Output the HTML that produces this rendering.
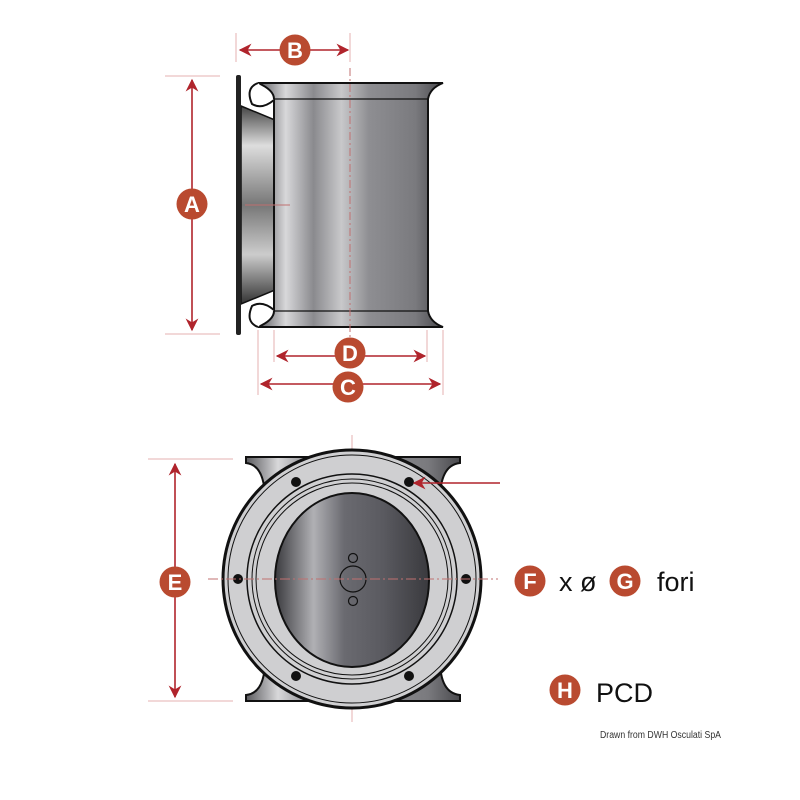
<!DOCTYPE html>
<html><head><meta charset="utf-8"><style>body{margin:0;background:#fff}svg{display:block}</style></head><body>
<svg width="800" height="800" viewBox="0 0 800 800" xmlns="http://www.w3.org/2000/svg" font-family="Liberation Sans, sans-serif">
<defs>
<linearGradient id="tube" x1="0" x2="1" y1="0" y2="0">
<stop offset="0" stop-color="#5a5a5e"/><stop offset="0.15" stop-color="#d8d8da"/><stop offset="0.3" stop-color="#8a8a8e"/><stop offset="0.45" stop-color="#c8c8ca"/><stop offset="0.6" stop-color="#8e8e92"/><stop offset="0.85" stop-color="#7a7a7e"/><stop offset="1" stop-color="#4a4a4e"/>
</linearGradient>
<linearGradient id="rec" x1="0" x2="0" y1="0" y2="1">
<stop offset="0" stop-color="#444"/><stop offset="0.2" stop-color="#ddd"/><stop offset="0.5" stop-color="#777"/><stop offset="0.75" stop-color="#ccc"/><stop offset="1" stop-color="#333"/>
</linearGradient>
<linearGradient id="oval" x1="0" x2="1" y1="0" y2="0">
<stop offset="0" stop-color="#3a3a3e"/><stop offset="0.25" stop-color="#b0b0b4"/><stop offset="0.45" stop-color="#6a6a70"/><stop offset="0.7" stop-color="#5a5a60"/><stop offset="1" stop-color="#3a3a3e"/>
</linearGradient>
<marker id="ar" viewBox="0 0 10 10" refX="9" refY="5" markerWidth="8" markerHeight="8" orient="auto-start-reverse"><path d="M0,0 L10,5 L0,10 L3,5z" fill="#b0242c"/></marker>
</defs>
<!-- top view -->
<g stroke="#e4b0b0" stroke-width="1">
<line x1="236" y1="33" x2="236" y2="62"/><line x1="350" y1="33" x2="350" y2="62"/>
<line x1="165" y1="76" x2="220" y2="76"/><line x1="165" y1="334" x2="220" y2="334"/>
<line x1="258" y1="330" x2="258" y2="395"/><line x1="443" y1="330" x2="443" y2="395"/>
<line x1="274" y1="330" x2="274" y2="362"/><line x1="427" y1="330" x2="427" y2="362"/>
</g>
<path d="M241,106 L275,120 L275,290 L241,304z" fill="url(#rec)" stroke="#111" stroke-width="1.5"/>
<rect x="236" y="75" width="5" height="260" rx="2" fill="#222"/>
<path d="M258,83 L443,83 Q430,88 428,99 L428,311 Q430,322 443,327 L258,327 Q274,320 274,311 L274,99 Q274,90 258,83z" fill="url(#tube)" stroke="#111" stroke-width="2"/>
<line x1="274" y1="99" x2="428" y2="99" stroke="#111" stroke-width="1.2"/>
<line x1="274" y1="311" x2="428" y2="311" stroke="#111" stroke-width="1.2"/>
<path d="M258,83 Q245,88 252,104 Q262,110 274,100" fill="#fff" stroke="#111" stroke-width="2"/>
<path d="M258,327 Q245,322 252,306 Q262,300 274,310" fill="#fff" stroke="#111" stroke-width="2"/>
<line x1="350" y1="68" x2="350" y2="345" stroke="#c07070" stroke-width="1" stroke-dasharray="8,3,2,3"/>
<line x1="245" y1="205" x2="290" y2="205" stroke="#c07070" stroke-width="1"/>
<g stroke="#b0242c" stroke-width="1.6" fill="none">
<line x1="240" y1="50" x2="348" y2="50" marker-start="url(#ar)" marker-end="url(#ar)"/>
<line x1="192" y1="80" x2="192" y2="330" marker-start="url(#ar)" marker-end="url(#ar)"/>
<line x1="277" y1="356" x2="425" y2="356" marker-start="url(#ar)" marker-end="url(#ar)"/>
<line x1="261" y1="384" x2="440" y2="384" marker-start="url(#ar)" marker-end="url(#ar)"/>
</g>
<!-- bottom view -->
<g stroke="#e4b0b0" stroke-width="1">
<line x1="148" y1="459" x2="233" y2="459"/><line x1="148" y1="701" x2="233" y2="701"/>
<line x1="352" y1="435" x2="352" y2="722"/>
</g>
<path d="M246,457 L460,457 L460,463 Q440,465 440,500 L265,500 Q265,465 246,463z" fill="url(#tube)" stroke="#111" stroke-width="2"/>
<path d="M246,701 L460,701 L460,695 Q440,693 440,660 L265,660 Q265,693 246,695z" fill="url(#tube)" stroke="#111" stroke-width="2"/>
<circle cx="352" cy="579" r="129" fill="#cfcfd1" stroke="#111" stroke-width="3"/>
<circle cx="352" cy="579" r="124" fill="none" stroke="#111" stroke-width="1"/>
<circle cx="352" cy="579" r="105" fill="none" stroke="#111" stroke-width="1.5"/>
<circle cx="352" cy="579" r="100" fill="none" stroke="#111" stroke-width="1"/>
<circle cx="352" cy="579" r="96" fill="none" stroke="#111" stroke-width="1"/>
<ellipse cx="352" cy="580" rx="77" ry="87" fill="url(#oval)" stroke="#111" stroke-width="2"/>
<g fill="#111"><circle cx="296" cy="482" r="5"/><circle cx="409" cy="482" r="5"/><circle cx="238" cy="579" r="5"/><circle cx="466" cy="579" r="5"/><circle cx="296" cy="676" r="5"/><circle cx="409" cy="676" r="5"/></g>
<g fill="none" stroke="#111" stroke-width="1.2"><circle cx="353" cy="579" r="13"/><circle cx="353" cy="558" r="4.5"/><circle cx="353" cy="601" r="4.5"/></g>
<line x1="208" y1="579" x2="498" y2="579" stroke="#c07070" stroke-width="1" stroke-dasharray="10,3,2,3"/>
<g stroke="#b0242c" stroke-width="1.6" fill="none">
<line x1="175" y1="464" x2="175" y2="697" marker-start="url(#ar)" marker-end="url(#ar)"/>
<line x1="500" y1="483" x2="414" y2="483" marker-end="url(#ar)"/>
</g>
<!-- labels -->
<g fill="#b94a30">
<circle cx="295" cy="50" r="15.5"/><circle cx="192" cy="204" r="15.5"/><circle cx="350" cy="353" r="15.5"/><circle cx="348" cy="387" r="15.5"/><circle cx="175" cy="582" r="15.5"/><circle cx="530" cy="581" r="15.5"/><circle cx="625" cy="581" r="15.5"/><circle cx="565" cy="690" r="15.5"/>
</g>
<g fill="#fff" font-weight="bold" font-size="22" text-anchor="middle">
<text x="295" y="58">B</text><text x="192" y="212">A</text><text x="350" y="361">D</text><text x="348" y="395">C</text><text x="175" y="590">E</text><text x="530" y="589">F</text><text x="625" y="589">G</text><text x="565" y="698">H</text>
</g>
<g fill="#111" font-size="27">
<text x="559" y="591">x ø</text><text x="657" y="591">fori</text><text x="596" y="702">PCD</text>
</g>
<text x="600" y="738" font-size="10" fill="#333" textLength="121" lengthAdjust="spacingAndGlyphs">Drawn from DWH Osculati SpA</text>
</svg>
</body></html>
